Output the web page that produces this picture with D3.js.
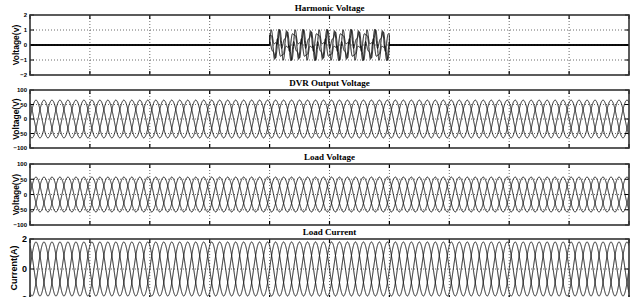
<!DOCTYPE html>
<html><head><meta charset="utf-8">
<script src="https://cdn.jsdelivr.net/npm/d3@7"></script>
<style>
html,body{margin:0;padding:0;background:#fff;overflow:hidden}
svg{display:block}
</style></head>
<body>
<svg id="chart" width="637" height="297"></svg>
<script>
// ---- data ----
const panelTitles = ["Harmonic Voltage", "DVR Output Voltage", "Load Voltage", "Load Current"];
const yLabels = ["Voltage(v)", "Voltage(V)", "Voltage(V)", "Current(A)"];
const yTicks = [[-2, -1, 0, 1, 2], [-100, -50, 0, 50, 100], [-100, -50, 0, 50, 100], [-2, 0, 2]];
const yGrid = [[-1, 0, 1], [-50, 0, 50], [-50, 0, 50], [0]];
const yDomains = [[-2, 2], [-100, 100], [-100, 100], [-2, 2]];
const timeTicks = [0, 0.05, 0.1, 0.15, 0.2, 0.25, 0.3, 0.35, 0.4, 0.45, 0.5];
const timeDomain = [0, 0.5];
const fundamentalHz = 50;
const phaseAnglesDeg = [0, -120, 120];
const fundamentalPeaks = [0, 65, 57, 1.8];      // per panel
const harmonicWindow = [0.2, 0.3];              // seconds, harmonic voltage panel
const harmonicOrders = [1, 3, 5];
const harmonicPeaks = [0.45, 0.6, 0.3];

// ---- layout ----
const svg = d3.select("#chart");
const left = 30, right = 629;
const panelTops = [15, 90, 164, 239];
const panelBottoms = [75, 148, 225, 299];
const x = d3.scaleLinear().domain(timeDomain).range([left, right]);
const N = 6000;
const times = d3.range(N + 1).map(i => timeDomain[0] + (timeDomain[1] - timeDomain[0]) * i / N);
const w = 2 * Math.PI * fundamentalHz;
const outside = t => t <= harmonicWindow[0] || t >= harmonicWindow[1];

function signal(p, ph, t) {
  const phi = phaseAnglesDeg[ph] * Math.PI / 180;
  if (p === 0) {
    if (outside(t)) return 0;
    let s = 0;
    harmonicOrders.forEach((h, k) => { s += harmonicPeaks[k] * Math.sin(h * (w * t + phi) + 0.6 * ph * (h === 3 ? 1 : 0)); });
    return s;
  }
  return fundamentalPeaks[p] * Math.sin(w * t + phi);
}

panelTitles.forEach((title, p) => {
  const y = d3.scaleLinear().domain(yDomains[p]).range([panelBottoms[p], panelTops[p]]);
  const g = svg.append("g");
  const clipId = "clip" + p;
  svg.append("clipPath").attr("id", clipId).append("rect")
    .attr("x", left).attr("y", panelTops[p]).attr("width", right - left).attr("height", panelBottoms[p] - panelTops[p]);

  // grid
  g.selectAll(".vg").data(timeTicks.slice(1, -1)).enter().append("line")
    .attr("x1", d => x(d)).attr("x2", d => x(d)).attr("y1", panelTops[p]).attr("y2", panelBottoms[p])
    .attr("stroke", "#444").attr("stroke-width", 0.8).attr("stroke-dasharray", "1,2");
  g.selectAll(".hg").data(yGrid[p]).enter().append("line")
    .attr("x1", left).attr("x2", right).attr("y1", d => y(d)).attr("y2", d => y(d))
    .attr("stroke", "#444").attr("stroke-width", 0.8).attr("stroke-dasharray", "1,2");

  // waveforms
  const line = d3.line().x(d => x(d[0])).y(d => y(d[1]));
  const wg = g.append("g").attr("clip-path", `url(#${clipId})`);
  phaseAnglesDeg.forEach((_, ph) => {
    wg.append("path").datum(times.map(t => [t, signal(p, ph, t)]))
      .attr("d", line).attr("fill", "none").attr("stroke", "#111")
      .attr("stroke-width", p === 0 ? 1 : 0.95);
  });
  if (p === 0) {
    wg.append("path").datum(times.map(t => [t, signal(p, 0, t)]))
      .attr("d", d3.line().x(d => x(d[0])).y(d => y(d[1])).defined(d => outside(d[0])))
      .attr("fill", "none").attr("stroke", "#000").attr("stroke-width", 1.6);
  }

  // ticks (inward, top & bottom, left & right)
  timeTicks.forEach(t => {
    g.append("line").attr("x1", x(t)).attr("x2", x(t)).attr("y1", panelTops[p]).attr("y2", panelTops[p] + 4)
      .attr("stroke", "#000").attr("stroke-width", 1.2);
    g.append("line").attr("x1", x(t)).attr("x2", x(t)).attr("y1", panelBottoms[p]).attr("y2", panelBottoms[p] - 4)
      .attr("stroke", "#000").attr("stroke-width", 1.2);
  });
  yTicks[p].forEach(v => {
    g.append("line").attr("x1", left).attr("x2", left + 4).attr("y1", y(v)).attr("y2", y(v)).attr("stroke", "#000");
    g.append("line").attr("x1", right).attr("x2", right - 4).attr("y1", y(v)).attr("y2", y(v)).attr("stroke", "#000");
  });

  // frame
  g.append("rect").attr("x", left).attr("y", panelTops[p]).attr("width", right - left)
    .attr("height", panelBottoms[p] - panelTops[p]).attr("fill", "none").attr("stroke", "#333").attr("stroke-width", 1.6);

  // y axis tick labels
  const axis = d3.axisLeft(y).tickValues(yTicks[p]).tickSize(0).tickPadding(3).tickFormat(d3.format("d"));
  const ag = svg.append("g").attr("transform", `translate(${left},0)`).call(axis);
  ag.select(".domain").remove();
  ag.selectAll("text").attr("font-family", "Liberation Sans, Arial, sans-serif")
    .attr("font-weight", "bold").attr("font-size", p === 3 ? 9 : 6).attr("fill", "#000");

  // y label
  svg.append("text")
    .attr("transform", `translate(${p === 3 ? 14 : 16},${(panelTops[p] + Math.min(panelBottoms[p], 297)) / 2}) rotate(-90)`)
    .attr("text-anchor", "middle").attr("dominant-baseline", "central")
    .attr("font-family", "Liberation Sans, Arial, sans-serif").attr("font-weight", "bold")
    .attr("font-size", p === 3 ? 9 : 8.5).attr("fill", "#000").text(yLabels[p]);

  // title
  svg.append("text").attr("x", (left + right) / 2).attr("y", panelTops[p] - 4)
    .attr("text-anchor", "middle").attr("font-family", "Liberation Serif, Times New Roman, serif")
    .attr("font-weight", "bold").attr("font-size", 9).attr("fill", "#000").text(title);
});
</script>
</body></html>
